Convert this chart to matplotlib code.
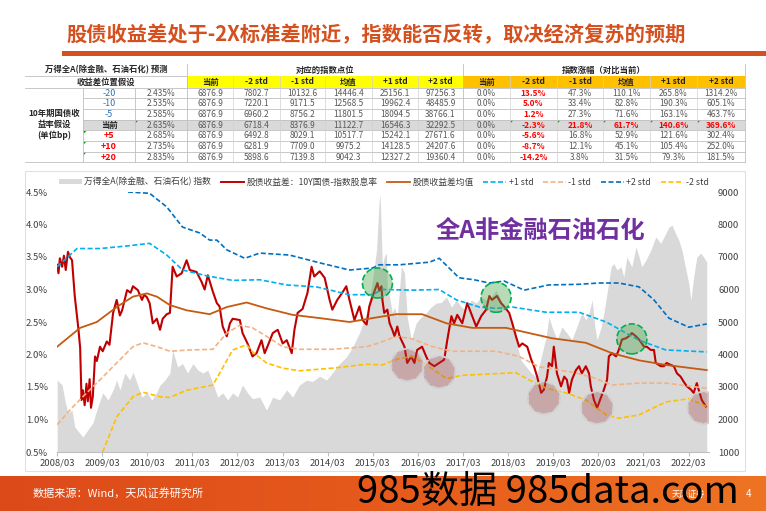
import numpy as np
import matplotlib
matplotlib.use('Agg')
import matplotlib.pyplot as plt
from matplotlib.patches import Rectangle, Ellipse, Polygon, Patch
from matplotlib.lines import Line2D
from matplotlib.ticker import FuncFormatter
from matplotlib.colors import LinearSegmentedColormap

plt.rcParams['font.family'] = ['Noto Sans CJK SC', 'DejaVu Sans']

# ---------------- table data ----------------
bp_labels = ['-20', '-10', '-5', '当前', '+5', '+10', '+20']
yields = ['2.435%', '2.535%', '2.585%', '2.635%', '2.685%', '2.735%', '2.835%']
level_now = [6876.9] * 7
level_m2 = [7802.7, 7220.1, 6960.2, 6718.4, 6492.8, 6281.9, 5898.6]
level_m1 = [10132.6, 9171.5, 8756.2, 8376.9, 8029.1, 7709.0, 7139.8]
level_mean = [14446.4, 12568.5, 11801.5, 11122.7, 10517.7, 9975.2, 9042.3]
level_p1 = [25156.1, 19962.4, 18094.5, 16546.3, 15242.1, 14128.5, 12327.2]
level_p2 = [97256.3, 48485.9, 38766.1, 32292.5, 27671.6, 24207.6, 19360.4]
chg_now = [0.0] * 7
chg_m2 = [13.5, 5.0, 1.2, -2.3, -5.6, -8.7, -14.2]
chg_m1 = [47.3, 33.4, 27.3, 21.8, 16.8, 12.1, 3.8]
chg_mean = [110.1, 82.8, 71.6, 61.7, 52.9, 45.1, 31.5]
chg_p1 = [265.8, 190.3, 163.1, 140.6, 121.6, 105.4, 79.3]
chg_p2 = [1314.2, 605.1, 463.7, 369.6, 302.4, 252.0, 181.5]
col_heads = ['当前', '-2 std', '-1 std', '均值', '+1 std', '+2 std']

# ---------------- chart data (time in years) ----------------
spread_t = [2008.17, 2008.20, 2008.23, 2008.28, 2008.32, 2008.36, 2008.41, 2008.45, 2008.50, 2008.56,
            2008.64, 2008.68, 2008.71, 2008.74, 2008.78, 2008.82, 2008.85, 2008.89, 2008.92, 2008.96,
            2009.01, 2009.05, 2009.12, 2009.18, 2009.27, 2009.33, 2009.41, 2009.49, 2009.56, 2009.61,
            2009.72, 2009.80, 2009.85, 2009.96, 2010.05, 2010.10, 2010.16, 2010.22, 2010.29, 2010.38,
            2010.45, 2010.51, 2010.60, 2010.67, 2010.73, 2010.82, 2010.93, 2011.04, 2011.11, 2011.26,
            2011.37, 2011.44, 2011.51, 2011.62, 2011.71, 2011.77, 2011.84, 2011.93, 2012.00, 2012.06,
            2012.22, 2012.28, 2012.39, 2012.50, 2012.59, 2012.70, 2012.77, 2012.83, 2012.95, 2013.06,
            2013.17, 2013.26, 2013.37, 2013.43, 2013.50, 2013.61, 2013.72, 2013.81, 2013.87, 2013.99,
            2014.10, 2014.21, 2014.27, 2014.38, 2014.49, 2014.58, 2014.65, 2014.76, 2014.87, 2014.94,
            2015.03, 2015.09, 2015.16, 2015.27, 2015.31, 2015.36, 2015.38, 2015.42, 2015.49, 2015.54,
            2015.60, 2015.65, 2015.71, 2015.76, 2015.87, 2015.93, 2016.02, 2016.09, 2016.15, 2016.26,
            2016.35, 2016.42, 2016.53, 2016.64, 2016.75, 2016.82, 2016.91, 2016.97, 2017.04, 2017.15,
            2017.26, 2017.37, 2017.46, 2017.57, 2017.68, 2017.75, 2017.81, 2017.92, 2018.01, 2018.08,
            2018.19, 2018.26, 2018.34, 2018.41, 2018.48, 2018.59, 2018.68, 2018.74, 2018.81, 2018.90,
            2018.96, 2019.03, 2019.07, 2019.14, 2019.18, 2019.25, 2019.34, 2019.41, 2019.47, 2019.52,
            2019.58, 2019.67, 2019.74, 2019.80, 2019.89, 2019.96, 2020.00, 2020.07, 2020.14, 2020.23,
            2020.29, 2020.36, 2020.40, 2020.47, 2020.56, 2020.62, 2020.69, 2020.78, 2020.84, 2020.91,
            2021.00, 2021.07, 2021.18, 2021.24, 2021.33, 2021.40, 2021.44, 2021.55, 2021.62, 2021.68,
            2021.77, 2021.84, 2021.91, 2021.99, 2022.06, 2022.13, 2022.22, 2022.28, 2022.35, 2022.39,
            2022.46, 2022.55]
spread_v = [3.38, 3.25, 3.48, 3.35, 3.52, 3.30, 3.58, 3.50, 3.45, 2.90,
            2.40, 2.10, 1.30, 1.45, 1.22, 1.55, 1.28, 1.62, 1.18, 1.35,
            1.97, 1.90, 2.12, 2.05, 2.20, 2.15, 2.64, 2.84, 2.60, 2.68,
            2.99, 2.95, 3.05, 2.99, 2.84, 2.92, 2.88, 2.79, 2.48, 2.55,
            2.38, 2.55, 2.62, 2.64, 3.35, 3.20, 3.25, 3.45, 3.30, 3.27,
            3.12, 3.00, 3.22, 2.97, 2.79, 2.74, 2.43, 2.28, 2.48, 2.55,
            2.53, 2.33, 2.17, 1.97, 2.02, 2.22, 2.02, 2.12, 2.33, 2.38,
            2.17, 2.22, 2.02, 2.38, 2.64, 2.70, 2.95, 3.35, 3.20, 3.28,
            3.18, 2.84, 2.69, 2.84, 2.95, 3.05, 2.84, 2.53, 2.74, 2.53,
            2.46, 2.74, 2.89, 3.10, 2.98, 3.05, 2.84, 2.64, 2.69, 2.48,
            2.38, 2.28, 2.43, 2.28, 2.12, 1.87, 1.97, 1.87, 2.07, 2.12,
            1.97, 1.87, 1.82, 1.87, 1.92, 2.23, 2.59, 2.48, 2.61, 2.48,
            2.79, 2.59, 2.43, 2.59, 2.69, 2.90, 2.84, 2.90, 2.79, 2.74,
            2.64, 2.48, 2.28, 2.12, 2.17, 2.12, 1.92, 1.82, 1.66, 1.41,
            1.46, 1.66, 1.87, 1.82, 2.12, 1.71, 1.51, 1.66, 1.61, 1.41,
            1.61, 1.76, 1.82, 1.71, 1.82, 1.71, 1.51, 1.30, 1.18, 1.35,
            1.46, 1.61, 1.97, 2.02, 1.97, 2.07, 2.23, 2.25, 2.28, 2.33,
            2.28, 2.23, 2.12, 2.12, 2.07, 2.07, 1.87, 1.82, 1.82, 1.87,
            1.84, 1.82, 1.71, 1.66, 1.58, 1.51, 1.46, 1.41, 1.56, 1.46,
            1.30, 1.20]

index_t = [2008.17, 2008.28, 2008.34, 2008.41, 2008.50, 2008.56, 2008.74, 2008.85, 2008.96, 2009.07,
           2009.18, 2009.30, 2009.41, 2009.49, 2009.56, 2009.67, 2009.78, 2009.85, 2009.94, 2010.05,
           2010.16, 2010.27, 2010.38, 2010.45, 2010.56, 2010.67, 2010.73, 2010.84, 2010.95, 2011.06,
           2011.18, 2011.29, 2011.40, 2011.51, 2011.62, 2011.73, 2011.84, 2011.95, 2012.06, 2012.17,
           2012.28, 2012.39, 2012.50, 2012.66, 2012.81, 2012.95, 2013.10, 2013.26, 2013.39, 2013.54,
           2013.70, 2013.83, 2013.99, 2014.14, 2014.27, 2014.43, 2014.58, 2014.72, 2014.87, 2015.03,
           2015.09, 2015.16, 2015.25, 2015.31, 2015.33, 2015.38, 2015.42, 2015.47, 2015.49, 2015.54,
           2015.60, 2015.65, 2015.71, 2015.80, 2015.87, 2015.93, 2016.02, 2016.13, 2016.24, 2016.35,
           2016.46, 2016.57, 2016.68, 2016.80, 2016.91, 2017.02, 2017.13, 2017.24, 2017.35, 2017.46,
           2017.57, 2017.68, 2017.79, 2017.90, 2018.01, 2018.12, 2018.23, 2018.34, 2018.45, 2018.57,
           2018.68, 2018.79, 2018.85, 2018.92, 2019.01, 2019.07, 2019.14, 2019.25, 2019.36, 2019.47,
           2019.58, 2019.69, 2019.80, 2019.89, 2019.96, 2020.03, 2020.09, 2020.14, 2020.23, 2020.29,
           2020.36, 2020.45, 2020.51, 2020.58, 2020.67, 2020.73, 2020.80, 2020.91, 2021.00, 2021.07,
           2021.13, 2021.22, 2021.33, 2021.44, 2021.55, 2021.66, 2021.73, 2021.80, 2021.88, 2021.95,
           2022.02, 2022.11, 2022.17, 2022.22, 2022.28, 2022.35, 2022.44, 2022.50, 2022.57]
index_v = [3215, 3060, 2600, 2200, 2290, 1770, 1460, 1680, 1890, 2380,
           2820, 2600, 2910, 3215, 2910, 3430, 3215, 3460, 3120, 2690,
           2820, 2600, 2850, 3060, 3215, 3430, 4140, 3620, 3720, 3430,
           3720, 3520, 3430, 3520, 3120, 2690, 2820, 2600, 2820, 2690,
           3060, 2820, 2640, 2690, 2290, 2690, 2600, 2910, 2690, 3060,
           3215, 3170, 3330, 3215, 3430, 3720, 3920, 4230, 4660, 5280,
           5680, 6290, 7210, 8750, 8900, 6700, 7000, 7120, 5980, 5770,
           5280, 5460, 5150, 6700, 6510, 5150, 4450, 4970, 5150, 5280,
           5460, 5580, 5600, 5770, 5460, 5680, 5460, 5370, 5680, 5580,
           5770, 5680, 5770, 5980, 5680, 5370, 5060, 4450, 3830, 3620,
           3430, 3310, 3620, 4040, 4540, 5150, 4850, 4450, 4850, 4660,
           4450, 4850, 5280, 5060, 5280, 5680, 4850, 4450, 4850, 5280,
           5890, 6700, 6800, 6600, 6700, 6390, 7000, 6700, 7310, 7000,
           6700, 6900, 7210, 7620, 7420, 7720, 7920, 7980, 7720, 7520,
           7210, 6600, 6190, 5680, 6390, 7000, 7120, 7000, 6850]

mean_t = [2008.17, 2008.68, 2009.05, 2009.49, 2009.85, 2010.16, 2010.38, 2010.67, 2011.04, 2011.55,
          2011.93, 2012.37, 2012.81, 2013.39, 2013.99, 2014.65, 2015.16, 2015.69, 2016.26, 2016.80,
          2017.37, 2018.12, 2018.63, 2019.14, 2019.89, 2020.47, 2021.07, 2021.66, 2022.57]
mean_v = [2.12, 2.41, 2.50, 2.73, 2.89, 2.94, 2.89, 2.76, 2.68, 2.62,
          2.73, 2.80, 2.71, 2.61, 2.56, 2.50, 2.56, 2.62, 2.62, 2.48,
          2.41, 2.41, 2.33, 2.25, 2.18, 2.02, 1.91, 1.84, 1.76]

p1_t = [2008.17, 2008.61, 2009.12, 2009.72, 2010.22, 2010.60, 2010.95, 2011.49, 2012.06, 2012.66,
        2013.26, 2013.92, 2014.65, 2015.16, 2015.38, 2016.04, 2016.64, 2017.02, 2017.53, 2017.90,
        2018.26, 2019.01, 2019.74, 2020.34, 2021.07, 2021.66, 2022.57]
p1_v = [3.35, 3.63, 3.63, 3.67, 3.71, 3.53, 3.30, 3.21, 3.14, 3.15,
        3.07, 3.04, 2.92, 2.92, 3.00, 2.99, 3.00, 2.84, 2.73, 2.71,
        2.73, 2.65, 2.65, 2.50, 2.22, 2.07, 2.04]

p2_t = [2009.74, 2010.22, 2010.60, 2010.95, 2011.33, 2011.55, 2011.71, 2011.93, 2012.33, 2012.66,
        2013.32, 2013.99, 2014.65, 2015.16, 2015.31, 2015.76, 2016.42, 2016.64, 2017.08, 2017.41,
        2017.75, 2018.08, 2018.52, 2019.07, 2019.74, 2020.18, 2020.62, 2021.07, 2021.40, 2021.73,
        2022.17, 2022.57]
p2_v = [4.50, 4.48, 4.27, 3.96, 3.87, 3.76, 3.76, 3.61, 3.48, 3.56,
        3.53, 3.41, 3.30, 3.33, 3.38, 3.38, 3.42, 3.48, 3.18, 3.15,
        3.10, 3.13, 2.99, 3.07, 3.08, 3.10, 3.10, 3.04, 2.84, 2.56,
        2.42, 2.47]

m1_t = [2008.17, 2008.50, 2008.74, 2009.12, 2009.49, 2009.85, 2010.07, 2010.38, 2010.67, 2011.11,
        2011.62, 2011.93, 2012.22, 2012.50, 2012.81, 2013.17, 2013.54, 2014.27, 2015.03, 2015.31,
        2015.69, 2016.04, 2016.49, 2016.93, 2017.90, 2018.41, 2018.85, 2019.58, 2020.03, 2020.47,
        2021.07, 2021.66, 2022.57]
m1_v = [0.92, 1.18, 1.35, 1.61, 1.87, 2.12, 2.18, 2.12, 2.05, 2.07,
        2.08, 2.33, 2.45, 2.41, 2.28, 2.12, 2.08, 2.08, 2.12, 2.18,
        2.28, 2.24, 2.12, 2.05, 2.05, 1.97, 1.81, 1.73, 1.65, 1.53,
        1.56, 1.56, 1.48]

m2_t = [2009.18, 2009.49, 2009.85, 2010.07, 2010.45, 2010.67, 2011.04, 2011.62, 2011.77, 2012.06,
        2012.37, 2012.50, 2012.81, 2013.17, 2013.54, 2014.27, 2015.03, 2015.38, 2015.76, 2016.04,
        2016.42, 2016.80, 2017.15, 2017.75, 2018.34, 2018.63, 2019.01, 2019.45, 2019.89, 2020.34,
        2020.62, 2021.07, 2021.66, 2022.17, 2022.57]
m2_v = [0.50, 1.04, 1.35, 1.42, 1.35, 1.34, 1.45, 1.53, 1.71, 2.07,
        2.15, 2.04, 1.87, 1.79, 1.75, 1.79, 1.85, 1.84, 1.94, 1.97,
        1.81, 1.63, 1.68, 1.70, 1.72, 1.61, 1.48, 1.41, 1.30, 1.07,
        1.02, 1.07, 1.27, 1.32, 1.20]

# highlighted zones (time, spread)
high_t = [2015.27, 2017.90, 2020.91]
high_v = [3.10, 2.88, 2.24]
low_t = [2015.93, 2016.64, 2018.96, 2020.14, 2022.50]
low_v = [1.84, 1.73, 1.33, 1.18, 1.18]

year_labels = ['2008/03', '2009/03', '2010/03', '2011/03', '2012/03', '2013/03', '2014/03', '2015/03',
               '2016/03', '2017/03', '2018/03', '2019/03', '2020/03', '2021/03', '2022/03']

title = '股债收益差处于-2X标准差附近，指数能否反转，取决经济复苏的预期'
source = '数据来源：Wind，天风证券研究所'

# ---------------- figure ----------------
W, H = 766, 511
fig = plt.figure(figsize=(W / 100, H / 100), dpi=100)
fig.patch.set_facecolor('white')


def fx(x):
    return x / W


def fy(y):
    return 1 - y / H


def box(x0, y0, x1, y1, color):
    fig.add_artist(Rectangle((fx(x0), fy(y1)), (x1 - x0) / W, (y1 - y0) / H,
                             transform=fig.transFigure, facecolor=color, edgecolor='none', lw=0))


def hline(x0, x1, y, color='#BFBFBF', lw=0.6):
    fig.add_artist(Line2D([fx(x0), fx(x1)], [fy(y), fy(y)], transform=fig.transFigure, color=color, lw=lw))


def vline(x, y0, y1, color='#BFBFBF', lw=0.6):
    fig.add_artist(Line2D([fx(x), fx(x)], [fy(y0), fy(y1)], transform=fig.transFigure, color=color, lw=lw))


def ctext(x0, x1, y, s, **kw):
    opts = dict(ha='center', va='center', fontsize=6, color='#595959')
    opts.update(kw)
    fig.text(fx((x0 + x1) / 2), fy(y), s, **opts)


# title
orange = '#D4501E'
fig.text(fx(66), fy(35), title, color=orange, fontsize=14.6, fontweight='bold', ha='left', va='center')
box(62, 51, 766, 56, orange)

# ---------------- table ----------------
cx = [25, 83, 135, 187, 233, 280, 325, 372, 418, 463, 510, 557, 603, 650, 697, 745]
top, h1, h2 = 64, 76, 87.7
rh = 10.67
rows_y = [h2 + i * rh for i in range(8)]

box(187, h1 + 0.5, 463, h2, '#FFFF00')
box(463, h1 + 0.5, 745, h2, '#FFC000')
box(83, rows_y[3], 745, rows_y[4], '#D9D9D9')

hline(25, 187, h1)
hline(25, 745, h2)
for y in rows_y[1:-1]:
    hline(83, 745, y)
hline(25, 745, rows_y[-1])
for x in [83, 135]:
    vline(x, h2, rows_y[-1])
for x in [187, 463, 745]:
    vline(x, top, rows_y[-1])
for x in cx[4:9] + cx[10:15]:
    vline(x, h1 + 0.5, rows_y[-1], color='#D0D0D0', lw=0.5)

hdr = dict(color='#262626', fontweight='bold')
ctext(25, 187, 70, '万得全A(除金融、石油石化) 预测', **hdr)
ctext(187, 463, 70, '对应的指数点位', **hdr)
ctext(463, 745, 70, '指数涨幅（对比当前）', **hdr)
ctext(25, 187, 82, '收益差位置假设', **hdr)
for k, s in enumerate(col_heads):
    ctext(cx[3 + k], cx[4 + k], 82, s, **hdr)
    ctext(cx[9 + k], cx[10 + k], 82, s, **hdr)

for j, s in enumerate(['10年期国债收', '益率假设', '(单位bp)']):
    ctext(25, 83, 113 + j * 11, s, **hdr)

levels = [level_now, level_m2, level_m1, level_mean, level_p1, level_p2]
changes = [chg_now, chg_m2, chg_m1, chg_mean, chg_p1, chg_p2]
for i in range(7):
    yc = (rows_y[i] + rows_y[i + 1]) / 2
    if bp_labels[i].startswith('-'):
        ctext(83, 135, yc, bp_labels[i], color='#2E75B6', fontsize=6.5)
    elif bp_labels[i].startswith('+'):
        ctext(83, 135, yc, bp_labels[i], color='#FF0000', fontsize=6.5, fontweight='bold')
    else:
        ctext(83, 135, yc, bp_labels[i], color='#262626', fontweight='bold')
    ctext(135, 187, yc, yields[i])
    for k in range(6):
        ctext(cx[3 + k], cx[4 + k], yc, f'{levels[k][i]:.1f}')
        red = (k == 1) or (i == 3 and k > 0)
        if red:
            ctext(cx[9 + k], cx[10 + k], yc, f'{changes[k][i]:.1f}%', color='#FF0000', fontweight='bold')
        else:
            ctext(cx[9 + k], cx[10 + k], yc, f'{changes[k][i]:.1f}%')


def flag(x, y):
    pts = [(fx(x), fy(y)), (fx(x + 3), fy(y)), (fx(x), fy(y + 3))]
    fig.add_artist(Polygon(pts, closed=True, transform=fig.transFigure, color='#00A000', lw=0))


flag(135.5, rows_y[3] + 0.5)
for i in [4, 5, 6]:
    flag(83.5, rows_y[i] + 0.5)
for x in cx[10:15]:
    flag(x + 0.5, rows_y[3] + 0.5)

# chart frame
fig.add_artist(Rectangle((fx(25), fy(471)), 720 / W, 300 / H, transform=fig.transFigure,
                         fill=False, edgecolor='#E0E0E0', lw=0.8))

# ---------------- chart ----------------
ax = fig.add_axes([fx(57), fy(452), (709 - 57) / W, (452 - 192) / H])
ax2 = ax.twinx()
ax.set_zorder(ax2.get_zorder() + 1)
ax.patch.set_visible(False)

ax2.fill_between(index_t, 1000, index_v, color='#D9D9D9', lw=0)
ax2.set_ylim(1000, 9000)
ax2.set_yticks(np.arange(1000, 9001, 1000))

ax.plot(spread_t, spread_v, color='#C00000', lw=1.5)
ax.plot(mean_t, mean_v, color='#C55A11', lw=1.3)
ax.plot(p1_t, p1_v, color='#00B0F0', lw=1.2, ls=(0, (3, 1.5)))
ax.plot(m1_t, m1_v, color='#F4B183', lw=1.2, ls=(0, (3, 1.5)))
ax.plot(p2_t, p2_v, color='#0070C0', lw=1.2, ls=(0, (3, 1.5)))
ax.plot(m2_t, m2_v, color='#FFC000', lw=1.2, ls=(0, (3, 1.5)))

for t, v in zip(high_t, high_v):
    ax.add_patch(Ellipse((t, v), 30 / 45.1, 30 / 65, facecolor=(0.30, 0.65, 0.30, 0.40),
                         edgecolor='#00B050', ls='--', lw=1.2, zorder=5))
for t, v in zip(low_t, low_v):
    ax.add_patch(Ellipse((t, v), 32 / 45.1, 32 / 65, facecolor=(0.63, 0.25, 0.25, 0.32),
                         edgecolor='#D0D0D0', ls='--', lw=1.4, zorder=5))

ax.set_xlim(2008.167, 2022.62)
ax.set_ylim(0.5, 4.5)
ax.set_yticks(np.arange(0.5, 4.51, 0.5))
ax.yaxis.set_major_formatter(FuncFormatter(lambda v, p: f'{v:.1f}%'))
ax.set_xticks([int(s[:4]) + (int(s[5:]) - 1) / 12 for s in year_labels])
ax.set_xticklabels(year_labels)

for a in (ax, ax2):
    for sp in a.spines.values():
        sp.set_visible(False)
ax.spines['bottom'].set_visible(True)
ax.spines['bottom'].set_color('#BFBFBF')
ax.tick_params(axis='x', length=3, color='#BFBFBF', labelsize=6.8, labelcolor='#404040', pad=2)
ax.tick_params(axis='y', length=0, labelsize=6.8, labelcolor='#404040', pad=6.5)
ax2.tick_params(axis='y', length=0, labelsize=6.8, labelcolor='#404040', pad=6.5)

ax.text((540 - 57) / 652, 0.85, '全A非金融石油石化', transform=ax.transAxes, ha='center', va='center',
        fontsize=17.5, fontweight='bold', color='#7030A0')

dash = (0, (3, 1.5))
handles = [Patch(facecolor='#D9D9D9', edgecolor='none'),
           Line2D([], [], color='#C00000', lw=1.4),
           Line2D([], [], color='#C55A11', lw=1.3),
           Line2D([], [], color='#00B0F0', lw=1.2, ls=dash),
           Line2D([], [], color='#F4B183', lw=1.2, ls=dash),
           Line2D([], [], color='#0070C0', lw=1.2, ls=dash),
           Line2D([], [], color='#FFC000', lw=1.2, ls=dash)]
labels = ['万得全A(除金融、石油石化) 指数', '股债收益差：10Y国债-指数股息率', '股债收益差均值',
          '+1 std', '-1 std', '+2 std', '-2 std']
leg = fig.legend(handles, labels, loc='center', bbox_to_anchor=(fx(384), fy(182)), ncol=7,
                 frameon=False, fontsize=6.3, handlelength=2.6, handleheight=0.6,
                 columnspacing=1.1, handletextpad=0.3)
for t in leg.get_texts():
    t.set_color('#404040')

# ---------------- footer ----------------
fax = fig.add_axes([0, 0, 1, 35 / H])
grad = np.linspace(0, 1, 256).reshape(1, -1)
cmap = LinearSegmentedColormap.from_list('foot', ['#DC4A1A', '#E65A1C', '#EE7424'])
fax.imshow(grad, aspect='auto', cmap=cmap, extent=[0, 1, 0, 1])
fax.axis('off')

fig.text(fx(33), fy(493), source, color='white', fontsize=8, ha='left', va='center')
fig.text(fx(672), fy(494), '天风证券', color='white', fontsize=6, ha='left', va='center')
fig.text(fx(748), fy(494), '4', color='white', fontsize=7, ha='center', va='center')
fig.text(fx(357), fy(503), '985数据 985data.com', color='black', fontsize=27.5, ha='left', va='baseline')

fig.savefig('out.png', dpi=100)
